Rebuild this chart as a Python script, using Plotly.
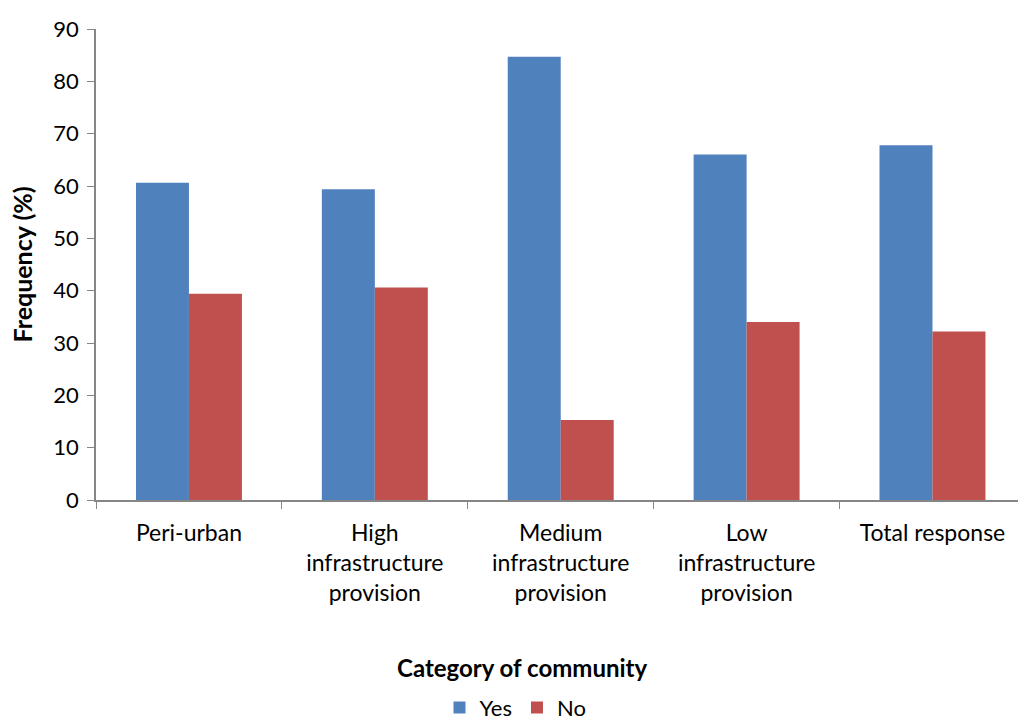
import plotly.graph_objects as go

# Survey responses by community category (percent)
categories = [
    "Peri-urban",
    "High<br>infrastructure<br>provision",
    "Medium<br>infrastructure<br>provision",
    "Low<br>infrastructure<br>provision",
    "Total response",
]
yes_values = [60.6, 59.4, 84.7, 66.0, 67.8]
no_values = [39.4, 40.6, 15.3, 34.0, 32.2]
y_ticks = [0, 10, 20, 30, 40, 50, 60, 70, 80, 90]

FONT = "Lato, 'Open Sans', sans-serif"
AXIS_GREY = "#868686"

fig = go.Figure()
fig.add_trace(go.Bar(name="Yes", x=categories, y=yes_values,
                     marker=dict(color="#4F81BD", line=dict(width=0))))
fig.add_trace(go.Bar(name="No", x=categories, y=no_values,
                     marker=dict(color="#C0504D", line=dict(width=0))))

fig.update_layout(
    width=1018, height=722,
    margin=dict(l=96, r=0, t=29, b=222, autoexpand=False),
    paper_bgcolor="white", plot_bgcolor="white",
    barmode="group", bargap=0.43, bargroupgap=0,
    font=dict(family=FONT, size=22, color="black"),
    showlegend=True,
    legend=dict(orientation="h", x=0.455, xanchor="center", y=-0.441, yanchor="middle",
                yref="paper", font=dict(size=22), itemwidth=30,
                tracegroupgap=0, traceorder="normal"),
)

fig.update_xaxes(
    range=[-0.5, 4.46], automargin=False,
    showline=True, linecolor=AXIS_GREY, linewidth=1.5,
    ticks="outside", tickson="boundaries", ticklen=7, tickcolor=AXIS_GREY,
    tickfont=dict(size=23), ticklabelstandoff=12,
    showgrid=False, zeroline=False,
)
fig.update_yaxes(
    range=[0, 90], tickvals=y_ticks, automargin=False,
    showline=True, linecolor=AXIS_GREY, linewidth=1.5,
    ticks="outside", ticklen=7, tickcolor=AXIS_GREY,
    tickfont=dict(size=22), ticklabelstandoff=4,
    showgrid=False, zeroline=False,
)

# Axis titles
fig.add_annotation(text="<b>Category of community</b>", xref="paper", yref="paper",
                   x=0.4625, y=-0.3546, xanchor="center", yanchor="middle",
                   showarrow=False, font=dict(size=24))
fig.add_annotation(text="<b>Frequency (%)</b>", xref="paper", yref="paper",
                   x=-0.0803, y=0.5, xanchor="center", yanchor="middle",
                   textangle=-90, showarrow=False, font=dict(size=25))

fig.write_html("out.html")
